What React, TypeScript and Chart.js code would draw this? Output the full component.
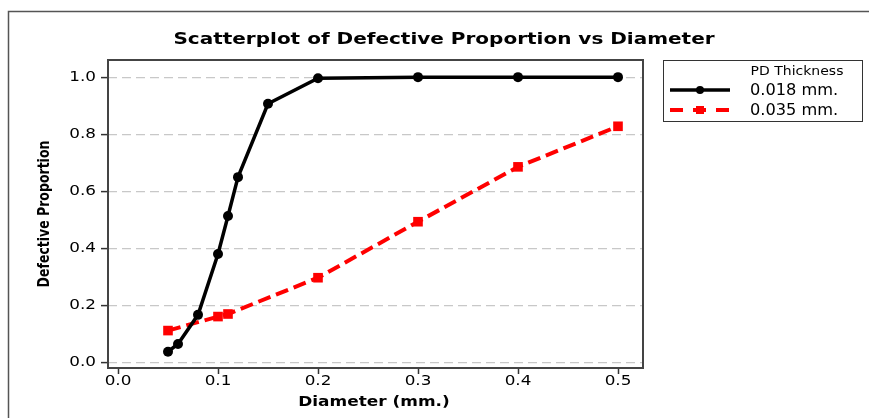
import React, { useEffect, useRef } from "react";
import { Chart, registerables } from "chart.js";

Chart.register(...registerables);

// ---- data ----
const diameter018 = [0.05, 0.06, 0.08, 0.1, 0.11, 0.12, 0.15, 0.2, 0.3, 0.4, 0.5];
const proportion018 = [0.039, 0.066, 0.168, 0.381, 0.514, 0.65, 0.907, 0.996, 1.0, 1.0, 1.0];
const diameter035 = [0.05, 0.1, 0.11, 0.2, 0.3, 0.4, 0.5];
const proportion035 = [0.113, 0.162, 0.171, 0.298, 0.494, 0.686, 0.828];
const xTicks = [0, 0.1, 0.2, 0.3, 0.4, 0.5];
const yTicks = [0, 0.2, 0.4, 0.6, 0.8, 1.0];
const seriesLabels = ["0.018 mm.", "0.035 mm."];
const legendTitle = "PD Thickness";
const chartTitle = "Scatterplot of Defective Proportion vs Diameter";
const xTitle = "Diameter (mm.)";
const yTitle = "Defective Proportion";

const FONT = '"DejaVu Sans", Verdana, sans-serif';

function stretchedText(
  ctx: CanvasRenderingContext2D,
  text: string,
  x: number,
  y: number,
  font: string,
  align: CanvasTextAlign,
  sx: number,
  color = "#000"
) {
  ctx.save();
  ctx.font = font;
  ctx.fillStyle = color;
  ctx.textBaseline = "middle";
  ctx.textAlign = align;
  ctx.translate(x, y);
  ctx.scale(sx, 1);
  ctx.fillText(text, 0, 0);
  ctx.restore();
}

const decorPlugin = {
  id: "decor",
  beforeDatasetsDraw(chart: any) {
    const { ctx, chartArea } = chart;
    ctx.save();
    // plot frame
    ctx.strokeStyle = "#444";
    ctx.lineWidth = 2;
    ctx.strokeRect(chartArea.left, chartArea.top, chartArea.right - chartArea.left, chartArea.bottom - chartArea.top);
    // outer frame (left & top)
    ctx.strokeStyle = "#555";
    ctx.lineWidth = 1.5;
    ctx.beginPath();
    ctx.moveTo(8.5, 418);
    ctx.lineTo(8.5, 11.5);
    ctx.lineTo(869, 11.5);
    ctx.stroke();
    ctx.restore();
  },
  afterDraw(chart: any) {
    const { ctx, chartArea } = chart;
    const xs = chart.scales.x;
    const ys = chart.scales.y;
    // title
    stretchedText(ctx, chartTitle, 444, 40, `bold 16px ${FONT}`, "center", 1.25);
    // tick labels
    xs.ticks.forEach((t: any) => {
      stretchedText(ctx, t.value.toFixed(1), xs.getPixelForValue(t.value), 381, `14px ${FONT}`, "center", 1.2);
    });
    ys.ticks.forEach((t: any) => {
      stretchedText(ctx, t.value.toFixed(1), 96, ys.getPixelForValue(t.value), `14px ${FONT}`, "right", 1.2);
    });
    // axis titles
    stretchedText(ctx, xTitle, 374, 402, `bold 14px ${FONT}`, "center", 1.21);
    ctx.save();
    ctx.translate(45, (chartArea.top + chartArea.bottom) / 2);
    ctx.rotate(-Math.PI / 2);
    ctx.scale(1, 1.25);
    ctx.font = `bold 12.5px ${FONT}`;
    ctx.fillStyle = "#000";
    ctx.textAlign = "center";
    ctx.textBaseline = "middle";
    ctx.fillText(yTitle, 0, 0);
    ctx.restore();

    // legend
    ctx.save();
    ctx.strokeStyle = "#333";
    ctx.lineWidth = 1;
    ctx.strokeRect(663.5, 60.5, 199, 61);
    ctx.restore();
    stretchedText(ctx, legendTitle, 797, 72, `12.5px ${FONT}`, "center", 1.12);
    const ds = chart.data.datasets;
    const rows = [90, 110];
    rows.forEach((ry, i) => {
      const d = ds[i];
      ctx.save();
      ctx.strokeStyle = d.borderColor;
      ctx.lineWidth = d.borderWidth;
      ctx.setLineDash(i === 0 ? [] : [13, 10]);
      ctx.beginPath();
      ctx.moveTo(670, ry);
      ctx.lineTo(730, ry);
      ctx.stroke();
      ctx.setLineDash([]);
      ctx.fillStyle = d.pointBackgroundColor;
      if (i === 0) {
        ctx.beginPath();
        ctx.arc(700, ry, 4, 0, Math.PI * 2);
        ctx.fill();
      } else {
        ctx.fillRect(696, ry - 4, 8, 8);
      }
      ctx.restore();
      stretchedText(ctx, seriesLabels[i], 750, ry + 1, `15px ${FONT}`, "left", 1.08);
    });
  },
};

export default function App() {
  const ref = useRef<HTMLCanvasElement | null>(null);
  useEffect(() => {
    if (!ref.current) return;
    const chart = new Chart(ref.current, {
      type: "scatter",
      data: {
        datasets: [
          {
            label: seriesLabels[0],
            data: diameter018.map((x, i) => ({ x, y: proportion018[i] })),
            showLine: true,
            borderColor: "#000000",
            borderWidth: 3.5,
            pointStyle: "circle",
            pointRadius: 5,
            pointBackgroundColor: "#000000",
            pointBorderWidth: 0,
            tension: 0,
          },
          {
            label: seriesLabels[1],
            data: diameter035.map((x, i) => ({ x, y: proportion035[i] })),
            showLine: true,
            borderColor: "#ff0000",
            borderWidth: 4,
            borderDash: [13, 6],
            pointStyle: "rect",
            pointRadius: 6.8,
            pointBackgroundColor: "#ff0000",
            pointBorderWidth: 0,
            tension: 0,
          },
        ],
      } as any,
      options: {
        responsive: false,
        animation: false,
        devicePixelRatio: 1,
        layout: { padding: { left: 0, top: 60, right: 226, bottom: 0 } },
        plugins: {
          legend: { display: false },
          title: { display: false },
          tooltip: { enabled: false },
        },
        scales: {
          x: {
            type: "linear",
            min: -0.01,
            max: 0.525,
            afterBuildTicks: (s: any) => {
              s.ticks = xTicks.map((v) => ({ value: v }));
            },
            afterFit: (s: any) => {
              s.height = 50;
            },
            ticks: { display: false },
            grid: {
              drawOnChartArea: false,
              drawTicks: true,
              tickLength: 6,
              tickColor: "#333",
              tickWidth: 1.5,
              color: "#333",
            },
            border: { display: false },
          },
          y: {
            type: "linear",
            min: -0.018,
            max: 1.06,
            afterBuildTicks: (s: any) => {
              s.ticks = yTicks.map((v) => ({ value: v }));
            },
            afterFit: (s: any) => {
              s.width = 108;
            },
            ticks: { display: false },
            grid: {
              drawOnChartArea: true,
              drawTicks: true,
              tickLength: 7,
              tickColor: "#333",
              tickWidth: 1.5,
              tickBorderDash: [],
              color: "#c8c8c8",
              lineWidth: 1.2,
            },
            border: { display: false, dash: [9, 5] },
          },
        },
      } as any,
      plugins: [decorPlugin],
    });
    return () => chart.destroy();
  }, []);
  return (
    <div style={{ position: "fixed", left: 0, top: 0, width: 869, height: 418, background: "#fff" }}>
      <canvas ref={ref} width={869} height={418} style={{ display: "block" }} />
    </div>
  );
}
